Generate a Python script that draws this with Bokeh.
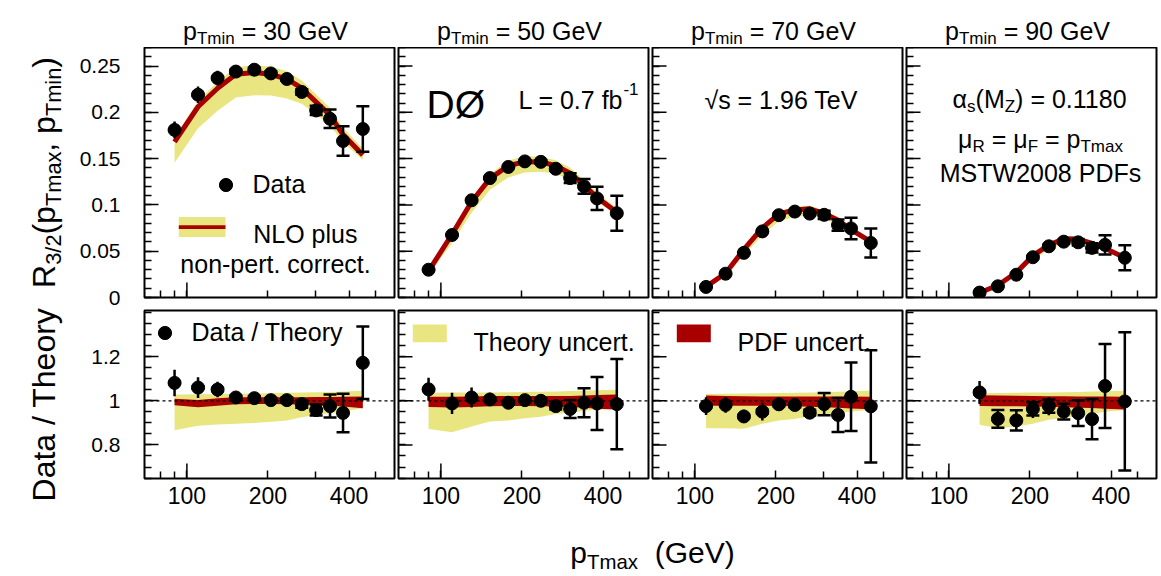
import numpy as np
from bokeh.plotting import figure
from bokeh.models import (FixedTicker, Label, BoxAnnotation, Span, Legend, LegendItem,
                          Whisker, ColumnDataSource, Range1d)
from bokeh.layouts import column, row
from bokeh.embed import file_html
from bokeh.resources import INLINE

# ---------------- data ----------------
ptmax = [90, 110, 130, 152, 178, 205, 235, 267, 302, 340, 380, 450]
ptmin = [30, 50, 70, 90]
first_bin = [0, 0, 1, 2]

# pTmin = 30 GeV
data_30 = [0.181, 0.219, 0.237, 0.244, 0.246, 0.242, 0.236, 0.222, 0.202, 0.193, 0.169, 0.182]
derr_30 = [0.009, 0.009, 0.008, 0.006, 0.005, 0.005, 0.005, 0.005, 0.006, 0.010, 0.016, 0.0245]
dstat_30 = [0.001, 0.001, 0.0015, 0.002, 0.002, 0.002, 0.002, 0.003, 0.005, 0.010, 0.016, 0.0245]
theo_30 = [0.168, 0.206, 0.226, 0.241, 0.243, 0.241, 0.236, 0.226, 0.211, 0.197, 0.176, 0.154]
ratio_30 = [1.081, 1.060, 1.051, 1.015, 1.012, 1.003, 1.003, 0.985, 0.958, 0.976, 0.945, 1.172]
rerr_30 = [0.060, 0.047, 0.035, 0.025, 0.022, 0.020, 0.020, 0.022, 0.030, 0.052, 0.087, 0.164]
rstat_30 = [0.005, 0.006, 0.007, 0.008, 0.009, 0.010, 0.012, 0.016, 0.025, 0.052, 0.087, 0.164]
scale_lo_30 = [0.866, 0.887, 0.893, 0.896, 0.899, 0.905, 0.911, 0.926, 0.936, 0.944, 0.951, 0.966]
scale_hi_30 = [1.029, 1.030, 1.031, 1.032, 1.033, 1.034, 1.036, 1.037, 1.039, 1.040, 1.042, 1.045]
pdf_lo_30 = [0.980, 0.971, 0.978, 0.984, 0.985, 0.985, 0.984, 0.983, 0.981, 0.978, 0.974, 0.966]
pdf_hi_30 = [1.009, 1.004, 1.012, 1.016, 1.016, 1.016, 1.016, 1.016, 1.017, 1.017, 1.018, 1.019]

# pTmin = 50 GeV
data_50 = [0.030, 0.0675, 0.105, 0.129, 0.141, 0.147, 0.1465, 0.139, 0.129, 0.120, 0.107, 0.091]
derr_50 = [0.0016, 0.0033, 0.0047, 0.0039, 0.0039, 0.003, 0.003, 0.003, 0.0053, 0.008, 0.0125, 0.019]
dstat_50 = [0.0002, 0.0004, 0.0006, 0.0009, 0.0011, 0.0013, 0.0016, 0.0021, 0.0053, 0.008, 0.0125, 0.019]
theo_50 = [0.0285, 0.0683, 0.1034, 0.1284, 0.1423, 0.1467, 0.1464, 0.1423, 0.1342, 0.1214, 0.108, 0.092]
ratio_50 = [1.052, 0.988, 1.015, 1.006, 0.991, 1.003, 1.000, 0.976, 0.963, 0.991, 0.988, 0.985]
rerr_50 = [0.052, 0.048, 0.045, 0.030, 0.028, 0.020, 0.020, 0.020, 0.041, 0.066, 0.120, 0.204]
rstat_50 = [0.004, 0.005, 0.006, 0.007, 0.008, 0.009, 0.011, 0.015, 0.041, 0.066, 0.120, 0.204]
scale_lo_50 = [0.872, 0.857, 0.884, 0.906, 0.911, 0.921, 0.928, 0.940, 0.946, 0.954, 0.959, 0.962]
scale_hi_50 = [1.036, 1.037, 1.037, 1.038, 1.039, 1.040, 1.041, 1.042, 1.044, 1.046, 1.048, 1.050]
pdf_lo_50 = [0.972, 0.970, 0.972, 0.975, 0.976, 0.976, 0.975, 0.974, 0.972, 0.968, 0.964, 0.960]
pdf_hi_50 = [1.018, 1.018, 1.020, 1.022, 1.022, 1.022, 1.022, 1.022, 1.022, 1.024, 1.026, 1.028]

# pTmin = 70 GeV
data_70 = [0.0114, 0.0257, 0.0482, 0.0714, 0.0889, 0.0928, 0.0906, 0.0893, 0.0782, 0.0746, 0.0589]
derr_70 = [0.0005, 0.0009, 0.0015, 0.0029, 0.0027, 0.0019, 0.0018, 0.0045, 0.006, 0.0116, 0.0157]
dstat_70 = [0.0001, 0.0002, 0.0003, 0.0006, 0.0008, 0.0009, 0.0012, 0.0045, 0.006, 0.0116, 0.0157]
theo_70 = [0.0117, 0.0262, 0.0519, 0.0751, 0.0903, 0.0946, 0.0958, 0.0907, 0.0835, 0.0733, 0.0604]
ratio_70 = [0.976, 0.981, 0.929, 0.951, 0.984, 0.981, 0.946, 0.985, 0.936, 1.018, 0.975]
rerr_70 = [0.040, 0.035, 0.030, 0.040, 0.030, 0.020, 0.020, 0.050, 0.077, 0.155, 0.254]
rstat_70 = [0.005, 0.006, 0.007, 0.008, 0.009, 0.010, 0.013, 0.050, 0.077, 0.155, 0.254]
scale_lo_70 = [0.876, 0.876, 0.873, 0.896, 0.911, 0.918, 0.929, 0.936, 0.943, 0.951, 0.958]
scale_hi_70 = [1.031, 1.032, 1.033, 1.034, 1.035, 1.036, 1.037, 1.039, 1.041, 1.043, 1.045]
pdf_lo_70 = [0.978, 0.978, 0.978, 0.977, 0.976, 0.975, 0.973, 0.971, 0.968, 0.965, 0.962]
pdf_hi_70 = [1.024, 1.022, 1.021, 1.020, 1.020, 1.020, 1.020, 1.020, 1.019, 1.019, 1.018]

# pTmin = 90 GeV
data_90 = [0.0053, 0.0121, 0.0246, 0.0435, 0.0553, 0.0603, 0.0596, 0.0536, 0.0568, 0.0429]
derr_90 = [0.0003, 0.0005, 0.0011, 0.0018, 0.0023, 0.0022, 0.0035, 0.0049, 0.0104, 0.0134]
dstat_90 = [0.0001, 0.0005, 0.0011, 0.0013, 0.0017, 0.0022, 0.0035, 0.0049, 0.0104, 0.0134]
theo_90 = [0.0051, 0.0132, 0.0270, 0.0452, 0.0567, 0.0634, 0.0631, 0.0585, 0.0532, 0.0430]
ratio_90 = [1.038, 0.918, 0.911, 0.963, 0.976, 0.951, 0.944, 0.917, 1.067, 0.997]
rerr_90 = [0.052, 0.045, 0.046, 0.041, 0.041, 0.036, 0.058, 0.091, 0.190, 0.313]
rstat_90 = [0.008, 0.040, 0.046, 0.030, 0.030, 0.036, 0.058, 0.091, 0.190, 0.313]
scale_lo_90 = [0.891, 0.876, 0.883, 0.896, 0.914, 0.922, 0.930, 0.940, 0.950, 0.958]
scale_hi_90 = [1.034, 1.035, 1.036, 1.037, 1.038, 1.039, 1.040, 1.042, 1.043, 1.045]
pdf_lo_90 = [0.976, 0.975, 0.975, 0.974, 0.973, 0.971, 0.969, 0.967, 0.964, 0.960]
pdf_hi_90 = [1.025, 1.024, 1.023, 1.022, 1.021, 1.021, 1.020, 1.020, 1.019, 1.018]

x_ticks = [100, 200, 400]
x_minor_ticks = [80, 90, 300, 500]
y_top_ticks = [0.0, 0.05, 0.1, 0.15, 0.2, 0.25]
y_top_labels = ["0", "0.05", "0.1", "0.15", "0.2", "0.25"]
y_bot_ticks = [0.8, 1.0, 1.2]
y_bot_labels = ["0.8", "1", "1.2"]

PANELS = [
    dict(data=data_30, derr=derr_30, dstat=dstat_30, theo=theo_30, ratio=ratio_30, rerr=rerr_30,
         rstat=rstat_30, slo=scale_lo_30, shi=scale_hi_30, plo=pdf_lo_30, phi=pdf_hi_30),
    dict(data=data_50, derr=derr_50, dstat=dstat_50, theo=theo_50, ratio=ratio_50, rerr=rerr_50,
         rstat=rstat_50, slo=scale_lo_50, shi=scale_hi_50, plo=pdf_lo_50, phi=pdf_hi_50),
    dict(data=data_70, derr=derr_70, dstat=dstat_70, theo=theo_70, ratio=ratio_70, rerr=rerr_70,
         rstat=rstat_70, slo=scale_lo_70, shi=scale_hi_70, plo=pdf_lo_70, phi=pdf_hi_70),
    dict(data=data_90, derr=derr_90, dstat=dstat_90, theo=theo_90, ratio=ratio_90, rerr=rerr_90,
         rstat=rstat_90, slo=scale_lo_90, shi=scale_hi_90, plo=pdf_lo_90, phi=pdf_hi_90),
]

# ---------------- style / layout ----------------
FONT = "Liberation Sans"
YEL = "#e9e682"
RED = "#a80000"
TXT = 25             # in-panel text size
LEFT_W = 70          # width of the strip holding the rotated y titles
FW = 250
LEFT0 = 74
HEADER_H = 47
TOP_FH, BOT_FH = 250, 168
TOP_B = (0, 12)
BOT_B = (1, 46)
FOOTER_H = 50
TS = TOP_FH / 253.0  # positions below were read for 253 / 170 px high frames
BS = BOT_FH / 170.0
XR = (69.6, 590.0)
FRAME_LEFT = [LEFT_W + LEFT0, LEFT_W + LEFT0 + FW + 4, LEFT_W + LEFT0 + 2 * (FW + 4),
              LEFT_W + LEFT0 + 3 * (FW + 4)]
RIGHT_W = LEFT0 + FW + 2 + 3 * (FW + 4)
TOTAL_H = HEADER_H + TOP_B[0] + TOP_FH + TOP_B[1] + BOT_B[0] + BOT_FH + BOT_B[1] + FOOTER_H
BOT_TOP = HEADER_H + TOP_B[0] + TOP_FH + TOP_B[1] + BOT_B[0]

WID = {' ': 278, '(': 333, ')': 333, ',': 278, '-': 333, '.': 278, '/': 278, '=': 584,
       'D': 722, 'F': 611, 'G': 778, 'L': 556, 'M': 833, 'N': 722, 'O': 778, 'P': 667,
       'R': 722, 'S': 667, 'T': 611, 'V': 667, 'W': 944, 'Z': 611,
       'a': 556, 'b': 556, 'c': 500, 'd': 556, 'e': 556, 'f': 278, 'h': 556, 'i': 222,
       'l': 222, 'm': 833, 'n': 556, 'o': 556, 'p': 556, 'r': 333, 's': 500, 't': 278,
       'u': 556, 'x': 500, 'y': 500, 'α': 578, 'μ': 576, '√': 549, 'Ø': 778}


def tw(s, size):
    return sum(WID.get(c, 556) for c in s) * size / 1000.0


def rich(p, parts, x, y, size, align="left", angle=0.0):
    items = []
    for t, k in parts:
        sz = size if k == "n" else 0.68 * size
        off = 0.0 if k == "n" else (-0.30 * size if k == "sub" else 0.42 * size)
        items.append((t, sz, off, tw(t, sz)))
    total = sum(i[3] for i in items)
    cur = -total / 2.0 if align == "center" else 0.0
    for t, sz, off, w in items:
        body = t.strip()
        if body:
            lead = tw(t[:len(t) - len(t.lstrip())], sz)
            if angle == 0:
                lx, ly = x + cur + lead, y + off
            else:
                lx, ly = x - off, y + cur + lead
            p.add_layout(Label(x=lx, y=ly, x_units="screen", y_units="screen", text=body,
                               text_font=FONT, text_font_size="%.1fpx" % sz,
                               text_baseline="alphabetic", text_align="left",
                               angle=angle, text_color="black"))
        cur += w


def screen_box(p, l, r, b, t, color):
    p.add_layout(BoxAnnotation(left=l, right=r, bottom=b, top=t, left_units="screen",
                               right_units="screen", bottom_units="screen", top_units="screen",
                               fill_color=color, fill_alpha=1.0, line_color=None))


def long_ticks(p, values, length, dim):
    src = ColumnDataSource(dict(b=list(values)))
    p.add_layout(Whisker(source=src, base="b", lower=0, upper=length, dimension=dim,
                         lower_units="screen", upper_units="screen", line_color="black",
                         line_width=1.5, upper_head=None, lower_head=None, level="annotation"))


def text_fig(w, h):
    f = figure(frame_width=w, frame_height=h, x_range=Range1d(0, 1), y_range=Range1d(0, 1),
               min_border=0, x_axis_location=None, y_axis_location=None,
               output_backend="svg", toolbar_location=None, outline_line_color=None,
               background_fill_color="white", border_fill_color="white")
    f.xgrid.visible = False
    f.ygrid.visible = False
    return f


def make_fig(k, top):
    p = figure(x_axis_type="log", x_range=XR,
               y_range=(0.0, 0.27) if top else (0.648, 1.409),
               frame_width=FW, frame_height=TOP_FH if top else BOT_FH,
               min_border=0, min_border_left=LEFT0 if k == 0 else 2, min_border_right=2,
               min_border_top=TOP_B[0] if top else BOT_B[0],
               min_border_bottom=TOP_B[1] if top else BOT_B[1],
               output_backend="svg", toolbar_location=None,
               background_fill_color="white", border_fill_color="white",
               outline_line_color="black", outline_line_width=2)
    p.xgrid.visible = False
    p.ygrid.visible = False
    xa, ya = p.xaxis[0], p.yaxis[0]
    y_major = y_top_ticks if top else y_bot_ticks
    y_lab = y_top_labels if top else y_bot_labels
    y_minor = [round(0.01 * i, 2) for i in range(28)] if top else [round(0.65 + 0.05 * i, 2) for i in range(16)]
    if top:
        xa.ticker = FixedTicker(ticks=[], minor_ticks=sorted(x_ticks + x_minor_ticks))
    else:
        xa.ticker = FixedTicker(ticks=x_ticks, minor_ticks=x_minor_ticks)
        xa.major_label_overrides = {float(v): str(v) for v in x_ticks}
        xa.major_label_text_font_size = "23px"
    if k == 0:
        ya.ticker = FixedTicker(ticks=y_major, minor_ticks=y_minor)
        ya.major_label_overrides = {float(v): s for v, s in zip(y_major, y_lab)}
        ya.major_label_text_font_size = "21px"
        ya.major_label_standoff = 24
    else:
        ya.ticker = FixedTicker(ticks=[], minor_ticks=sorted(set(y_minor + y_major)))
        ya.major_label_standoff = 0
        long_ticks(p, y_major, 14, "width")
    xa.major_label_standoff = 8 if not top else 0
    for ax in (xa, ya):
        ax.axis_line_color = None
        ax.major_tick_out = 0
        ax.minor_tick_out = 0
        ax.major_tick_line_color = "black"
        ax.minor_tick_line_color = "black"
        ax.major_tick_line_width = 1.5
        ax.minor_tick_line_width = 1.5
        ax.major_label_text_font = FONT
        ax.major_label_text_color = "black"
    xa.major_tick_in = 8
    xa.minor_tick_in = 7
    ya.major_tick_in = 14
    ya.minor_tick_in = 7
    long_ticks(p, [100], 15, "height")   # ROOT-style longer decade tick
    return p


def draw_points(p, xs, ys, err, stat):
    p.segment(x0=xs, y0=[y - e for y, e in zip(ys, err)], x1=xs, y1=[y + e for y, e in zip(ys, err)],
              line_color="black", line_width=2.5)
    p.scatter(x=xs, y=[y + s for y, s in zip(ys, stat)], marker="dash", size=13,
              line_color="black", line_width=2.5)
    p.scatter(x=xs, y=[y - s for y, s in zip(ys, stat)], marker="dash", size=13,
              line_color="black", line_width=2.5)
    return p.scatter(x=xs, y=ys, marker="circle", size=13, fill_color="black", line_color="black")


def legend(p, label, r, loc):
    p.add_layout(Legend(items=[LegendItem(label=label, renderers=[r])], location=loc,
                        glyph_width=33, glyph_height=33, label_standoff=11, padding=0, margin=0,
                        spacing=0, border_line_alpha=0, background_fill_alpha=0,
                        label_text_font=FONT, label_text_font_size="%dpx" % TXT,
                        label_text_color="black", label_height=33))


header = text_fig(RIGHT_W, HEADER_H)
footer = text_fig(RIGHT_W, FOOTER_H)
ytitles = text_fig(LEFT_W, TOTAL_H)

tops, bots = [], []
for k, d in enumerate(PANELS):
    xs = ptmax[first_bin[k]:]
    # ---- upper panel ----
    p = make_fig(k, True)
    p.varea(x=xs, y1=[t * l for t, l in zip(d["theo"], d["slo"])],
            y2=[t * h for t, h in zip(d["theo"], d["shi"])], fill_color=YEL)
    p.line(x=xs, y=d["theo"], line_color=RED, line_width=5)
    rdata = draw_points(p, xs, d["data"], d["derr"], d["dstat"])
    tops.append(p)
    rich(header, [("p", "n"), ("Tmin", "sub"), (" = %d GeV" % ptmin[k], "n")],
         FRAME_LEFT[k] + 121 - LEFT_W, 17.0, 25, align="center")

    # ---- lower panel ----
    q = make_fig(k, False)
    q.varea(x=xs, y1=d["slo"], y2=d["shi"], fill_color=YEL)
    q.varea(x=xs, y1=d["plo"], y2=d["phi"], fill_color=RED)
    q.add_layout(Span(location=1.0, dimension="width", line_color="black", line_width=1.3,
                      line_dash="3 3"))
    rratio = draw_points(q, xs, d["ratio"], d["rerr"], d["rstat"])
    bots.append(q)

    if k == 0:
        legend(p, "Data", rdata, (64.5, 113.7 * TS - 16.5))
        screen_box(p, 34.3, 81.0, 71.3 * TS - 10, 71.3 * TS + 10, YEL)
        screen_box(p, 34.3, 81.0, 71.3 * TS - 1.9, 71.3 * TS + 1.9, RED)
        rich(p, [("NLO plus", "n")], 108.7, 64.7 * TS, TXT)
        rich(p, [("non-pert. correct.", "n")], 131.0, 34.0 * TS, TXT, align="center")
        legend(q, "Data / Theory", rratio, (3.5, 147.7 * BS - 16.5))
    elif k == 1:
        rich(p, [("DØ", "n")], 28, TOP_FH - 56.7, 39)
        rich(p, [("L = 0.7 fb", "n"), ("-1", "sup")], 180, TOP_FH - 52.3, TXT, align="center")
        screen_box(q, 14.3, 48.3, BOT_FH - 31.7, BOT_FH - 14.0, YEL)
        rich(q, [("Theory uncert.", "n")], 75, BOT_FH - 31.7, TXT)
    elif k == 2:
        rich(p, [("√s = 1.96 TeV", "n")], 130, TOP_FH - 52.3, TXT, align="center")
        screen_box(q, 24.3, 58.3, BOT_FH - 31.7, BOT_FH - 14.0, RED)
        rich(q, [("PDF uncert.", "n")], 85, BOT_FH - 31.7, TXT)
    else:
        rich(p, [("α", "n"), ("s", "sub"), ("(M", "n"), ("Z", "sub"), (") = 0.1180", "n")],
             134, TOP_FH - 51.7, TXT, align="center")
        rich(p, [("μ", "n"), ("R", "sub"), (" = μ", "n"), ("F", "sub"), (" = p", "n"), ("Tmax", "sub")],
             134, TOP_FH - 91.7, TXT, align="center")
        rich(p, [("MSTW2008 PDFs", "n")], 134, TOP_FH - 125.7, TXT, align="center")

# rotated y titles
rich(ytitles, [("R", "n"), ("3/2", "sub"), ("(p", "n"), ("Tmax", "sub"), (", p", "n"),
               ("Tmin", "sub"), (")", "n")], 43, TOTAL_H - (HEADER_H + TOP_FH / 2.0), 32,
     align="center", angle=np.pi / 2)
rich(ytitles, [("Data / Theory", "n")], 43, TOTAL_H - (BOT_TOP + BOT_FH / 2.0 + 10), 32,
     align="center", angle=np.pi / 2)

# x axis title
rich(footer, [("p", "n"), ("Tmax", "sub"), ("  (GeV)", "n")], 652 - LEFT_W, 22, 30, align="center")

layout = row(ytitles, column(header, row(*tops), row(*bots), footer))
open("out.html", "w").write(file_html(layout, INLINE, title="R32"))
